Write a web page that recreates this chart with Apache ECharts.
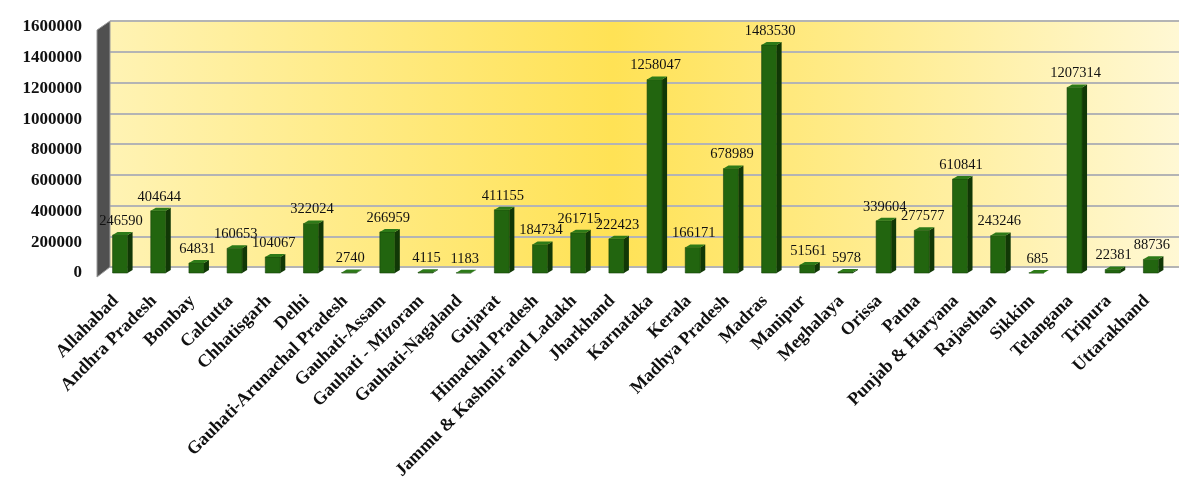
<!DOCTYPE html>
<html>
<head>
<meta charset="utf-8">
<title>Chart</title>
<script src="https://cdn.jsdelivr.net/npm/echarts@6/dist/echarts.min.js"></script>
<style>
  html, body { margin: 0; padding: 0; background: #fff; }
  #chart { width: 1200px; height: 488px; }
</style>
</head>
<body>
<div id="chart"></div>
<script>
var categories = [
  "Allahabad", "Andhra Pradesh", "Bombay", "Calcutta", "Chhatisgarh", "Delhi",
  "Gauhati-Arunachal Pradesh", "Gauhati-Assam", "Gauhati - Mizoram", "Gauhati-Nagaland",
  "Gujarat", "Himachal Pradesh", "Jammu & Kashmir and Ladakh", "Jharkhand", "Karnataka",
  "Kerala", "Madhya Pradesh", "Madras", "Manipur", "Meghalaya", "Orissa", "Patna",
  "Punjab & Haryana", "Rajasthan", "Sikkim", "Telangana", "Tripura", "Uttarakhand"
];
var values = [
  246590, 404644, 64831, 160653, 104067, 322024,
  2740, 266959, 4115, 1183,
  411155, 184734, 261715, 222423, 1258047,
  166171, 678989, 1483530, 51561, 5978, 339604, 277577,
  610841, 243246, 685, 1207314, 22381, 88736
];
var yMin = 0;
var yMax = 1600000;
var yStep = 200000;

var serif = '"Liberation Serif", "Times New Roman", serif';

// 3D-looking column: front face, side face, top face and its value label
function renderBar(params, api) {
  var idx = api.value(0);
  var val = api.value(1);
  var top = api.coord([idx, val]);
  var base = api.coord([idx, 0]);
  var w = 15, dx = 5, dy = 3;
  var x0 = top[0] - w / 2;
  var x1 = top[0] + w / 2;
  return {
    type: "group",
    children: [
      {
        type: "polygon",
        shape: { points: [[x1, top[1]], [x1 + dx, top[1] - dy], [x1 + dx, base[1] - dy], [x1, base[1]]] },
        style: { fill: "#113806" }
      },
      {
        type: "rect",
        shape: { x: x0, y: top[1], width: w, height: base[1] - top[1] },
        style: { fill: "#22650f", stroke: "#143f08", lineWidth: 0.6 }
      },
      {
        type: "polygon",
        shape: { points: [[x0, top[1]], [x0 + dx, top[1] - dy], [x1 + dx, top[1] - dy], [x1, top[1]]] },
        style: { fill: "#2d7a18" }
      },
      {
        type: "text",
        x: top[0] + 1,
        y: top[1] - 14,
        style: {
          text: String(val),
          font: "14.5px " + serif,
          fill: "#111",
          align: "center",
          verticalAlign: "middle"
        }
      }
    ]
  };
}

// dark side wall left of the back plane
function renderWall(params, api) {
  var p0 = api.coord([0, yMin]);
  var p1 = api.coord([0, yMax]);
  var xl = p0[0] - api.size([1, 0])[0] / 2;
  return {
    type: "polygon",
    shape: { points: [[xl, p1[1]], [xl, p0[1]], [xl - 13, p0[1] + 10], [xl - 13, p1[1] + 9]] },
    style: { fill: "#505050", stroke: "#9a9a9a", lineWidth: 1 }
  };
}

var barData = categories.map(function(c, i) {
  return [i, values[i]];
});

var chart = echarts.init(document.getElementById("chart"));
chart.setOption({
  animation: false,
  backgroundColor: "#fff",
  grid: [
    {
      left: 110, right: 21, top: 21, bottom: 221,
      show: true,
      borderWidth: 0,
      backgroundColor: {
        type: "linear", x: 0, y: 0, x2: 1, y2: 0,
        colorStops: [
          { offset: 0, color: "#fff3b4" },
          { offset: 0.47, color: "#ffe255" },
          { offset: 1, color: "#fff8d4" }
        ]
      }
    },
    { left: 101, right: 30, top: 27, bottom: 215 }
  ],
  xAxis: [
    {
      gridIndex: 0, type: "category", data: categories,
      show: false
    },
    {
      gridIndex: 1, type: "category", data: categories,
      axisLine: { show: false },
      axisTick: { show: false },
      axisLabel: {
        interval: 0,
        rotate: 45,
        margin: 21,
        padding: [0, 6, 0, 0],
        fontFamily: serif,
        fontWeight: "bold",
        fontSize: 18,
        color: "#111"
      }
    }
  ],
  yAxis: [
    {
      gridIndex: 0, type: "value", min: yMin, max: yMax, interval: yStep,
      axisLine: { show: false },
      axisTick: { show: false },
      axisLabel: { show: false },
      splitLine: { lineStyle: { color: "#b4b4b4", width: 2 } }
    },
    {
      gridIndex: 1, type: "value", min: yMin, max: yMax, interval: yStep,
      axisLine: { show: false },
      axisTick: { show: false },
      splitLine: { show: false },
      axisLabel: {
        margin: 19,
        padding: [9, 0, 0, 0],
        formatter: function(v) { return String(v); },
        fontFamily: serif,
        fontWeight: "bold",
        fontSize: 17,
        color: "#111"
      }
    }
  ],
  series: [
    {
      type: "custom",
      xAxisIndex: 0, yAxisIndex: 0,
      renderItem: renderWall,
      data: [[0, yMax]],
      silent: true
    },
    {
      type: "custom",
      xAxisIndex: 1, yAxisIndex: 1,
      renderItem: renderBar,
      encode: { x: 0, y: 1 },
      data: barData
    }
  ]
});
</script>
</body>
</html>
